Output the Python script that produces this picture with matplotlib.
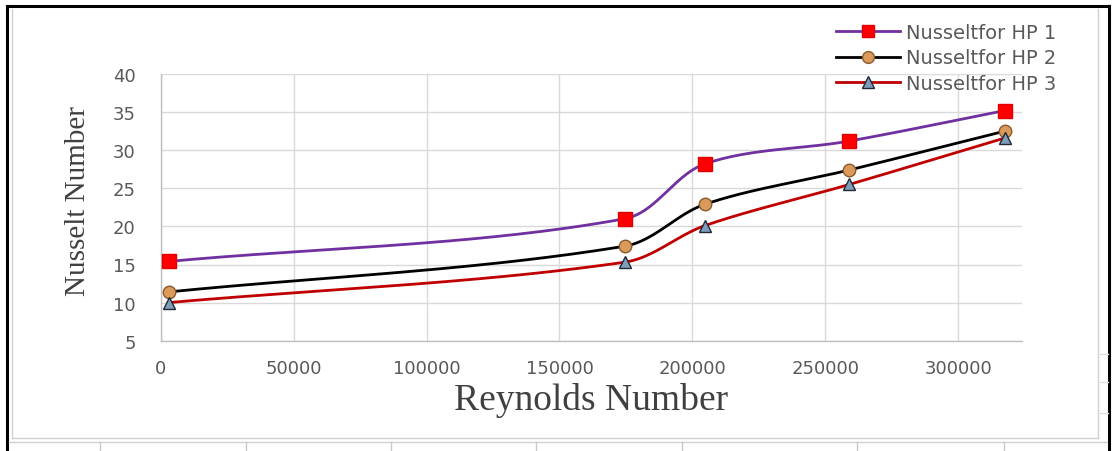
import numpy as np
import matplotlib
matplotlib.use("Agg")
import matplotlib.pyplot as plt
from matplotlib.lines import Line2D

# Reynolds numbers and Nusselt numbers for the three heat pipes
reynolds = [3000, 174500, 204700, 259000, 317500]
nusselt_hp1 = [15.4, 21.0, 28.2, 31.2, 35.2]
nusselt_hp2 = [11.4, 17.4, 22.9, 27.4, 32.5]
nusselt_hp3 = [10.0, 15.3, 20.1, 25.5, 31.6]
series_labels = ["Nusseltfor HP 1", "Nusseltfor HP 2", "Nusseltfor HP 3"]
x_ticks = [0, 50000, 100000, 150000, 200000, 250000, 300000]
y_ticks = [5, 10, 15, 20, 25, 30, 35, 40]


def smooth_curve(ax, xs, ys, n=60, tension=0.33):
    """Smoothed line through every point, built as cubic Beziers in screen space."""
    pts = ax.transData.transform(np.column_stack([xs, ys]))
    ext = np.vstack([pts[:1], pts, pts[-1:]])
    t = np.linspace(0, 1, n)[:, None]
    segs = []
    for i in range(len(pts) - 1):
        p0, p1, p2, p3 = ext[i], ext[i + 1], ext[i + 2], ext[i + 3]
        seg_len = np.hypot(*(p2 - p1))
        d1 = p2 - p0
        d2 = p3 - p1
        d1 = d1 / (np.hypot(*d1) or 1.0)
        d2 = d2 / (np.hypot(*d2) or 1.0)
        c1 = p1 + d1 * seg_len * tension
        c2 = p2 - d2 * seg_len * tension
        b = (1 - t) ** 3 * p1 + 3 * (1 - t) ** 2 * t * c1 + 3 * (1 - t) * t ** 2 * c2 + t ** 3 * p2
        segs.append(b)
    curve = ax.transData.inverted().transform(np.vstack(segs))
    return curve[:, 0], curve[:, 1]


W, H = 1114, 452
fig = plt.figure(figsize=(W / 100, H / 100), dpi=100)
fig.patch.set_facecolor("white")


def fx(px):
    return px / W


def fy(py):
    return 1 - py / H


# Surrounding frame: black outer border and light grey sheet lines
for xs_, ys_ in [((7, 7), (7, 452)), ((7, 1109), (7, 7)), ((1109, 1109), (7, 452))]:
    fig.add_artist(Line2D([fx(v) for v in xs_], [fy(v) for v in ys_],
                          color="black", lw=2.2, transform=fig.transFigure))
grey_frame = [((12, 12), (10, 439)), ((12, 1098), (439, 439)), ((1098, 1098), (10, 439)),
              ((9, 1107), (443, 443))]
for xs_, ys_ in grey_frame:
    fig.add_artist(Line2D([fx(v) for v in xs_], [fy(v) for v in ys_],
                          color="#d0d0d0", lw=1.0, transform=fig.transFigure))
for cx in [100, 246, 391, 536, 682, 857, 1004]:
    fig.add_artist(Line2D([fx(cx), fx(cx)], [fy(443), fy(452)],
                          color="#c8c8c8", lw=1.0, transform=fig.transFigure))
for ry in [355, 383, 414]:
    fig.add_artist(Line2D([fx(1098), fx(1108)], [fy(ry), fy(ry)],
                          color="#e0e0e0", lw=1.0, transform=fig.transFigure))

left, right = 160.7, 1022
top, bottom = 75, 341.7
ax = fig.add_axes([left / W, 1 - bottom / H, (right - left) / W, (bottom - top) / H])
ax.set_xlim(0, 324000)
ax.set_ylim(5, 40)
ax.set_xticks(x_ticks)
ax.set_yticks(y_ticks)
ax.set_xticklabels([str(v) for v in x_ticks])
ax.set_yticklabels([str(v) for v in y_ticks])
ax.grid(True, color="#d9d9d9", lw=1.0)
ax.set_axisbelow(True)
for s in ["top", "right"]:
    ax.spines[s].set_visible(False)
for s in ["left", "bottom"]:
    ax.spines[s].set_color("#bfbfbf")
    ax.spines[s].set_linewidth(1.0)
ax.tick_params(axis="both", length=0, labelsize=13, labelcolor="#595959")
ax.tick_params(axis="y", pad=18)
ax.tick_params(axis="x", pad=13)

styles = [
    dict(color="#7030A0", marker="s", mfc="#FF0000", mec="#E00000", ms=9.5),
    dict(color="#000000", marker="o", mfc="#D99A5B", mec="#8B5A2B", ms=9),
    dict(color="#C00000", marker="^", mfc="#7F9DB9", mec="#1F2A36", ms=9),
]
all_series = [nusselt_hp1, nusselt_hp2, nusselt_hp3]

for vals, st in zip(all_series, styles):
    sx, sy = smooth_curve(ax, reynolds, vals)
    ax.plot(sx, sy, color=st["color"], lw=2.0, solid_capstyle="round", zorder=3)
for vals, st in zip(all_series, styles):
    ax.plot(reynolds, vals, ls="none", marker=st["marker"], ms=st["ms"],
            mfc=st["mfc"], mec=st["mec"], mew=1.0, zorder=4)

handles = [Line2D([], [], color=st["color"], lw=2.0, marker=st["marker"], ms=8.5,
                  mfc=st["mfc"], mec=st["mec"], mew=1.0) for st in styles]
leg = fig.legend(handles, series_labels, loc="upper left",
                 bbox_to_anchor=(836 / W, 1 - 24 / H), frameon=False,
                 fontsize=14, handlelength=3.3, handletextpad=0.3,
                 labelspacing=0.33, borderpad=0, borderaxespad=0)
for t in leg.get_texts():
    t.set_color("#595959")

ax.set_ylabel("Nusselt Number", family="Liberation Serif", fontsize=21, color="#404040")
ax.yaxis.set_label_coords((78 - left) / (right - left), (bottom - 201) / (bottom - top))
ax.yaxis.label.set_va("center")
ax.set_xlabel("Reynolds Number", family="Liberation Serif", fontsize=27, color="#404040")
ax.xaxis.set_label_coords((591.5 - left) / (right - left), (bottom - 400) / (bottom - top))
ax.xaxis.label.set_va("center")

fig.savefig("out.png", dpi=100, facecolor="white")
